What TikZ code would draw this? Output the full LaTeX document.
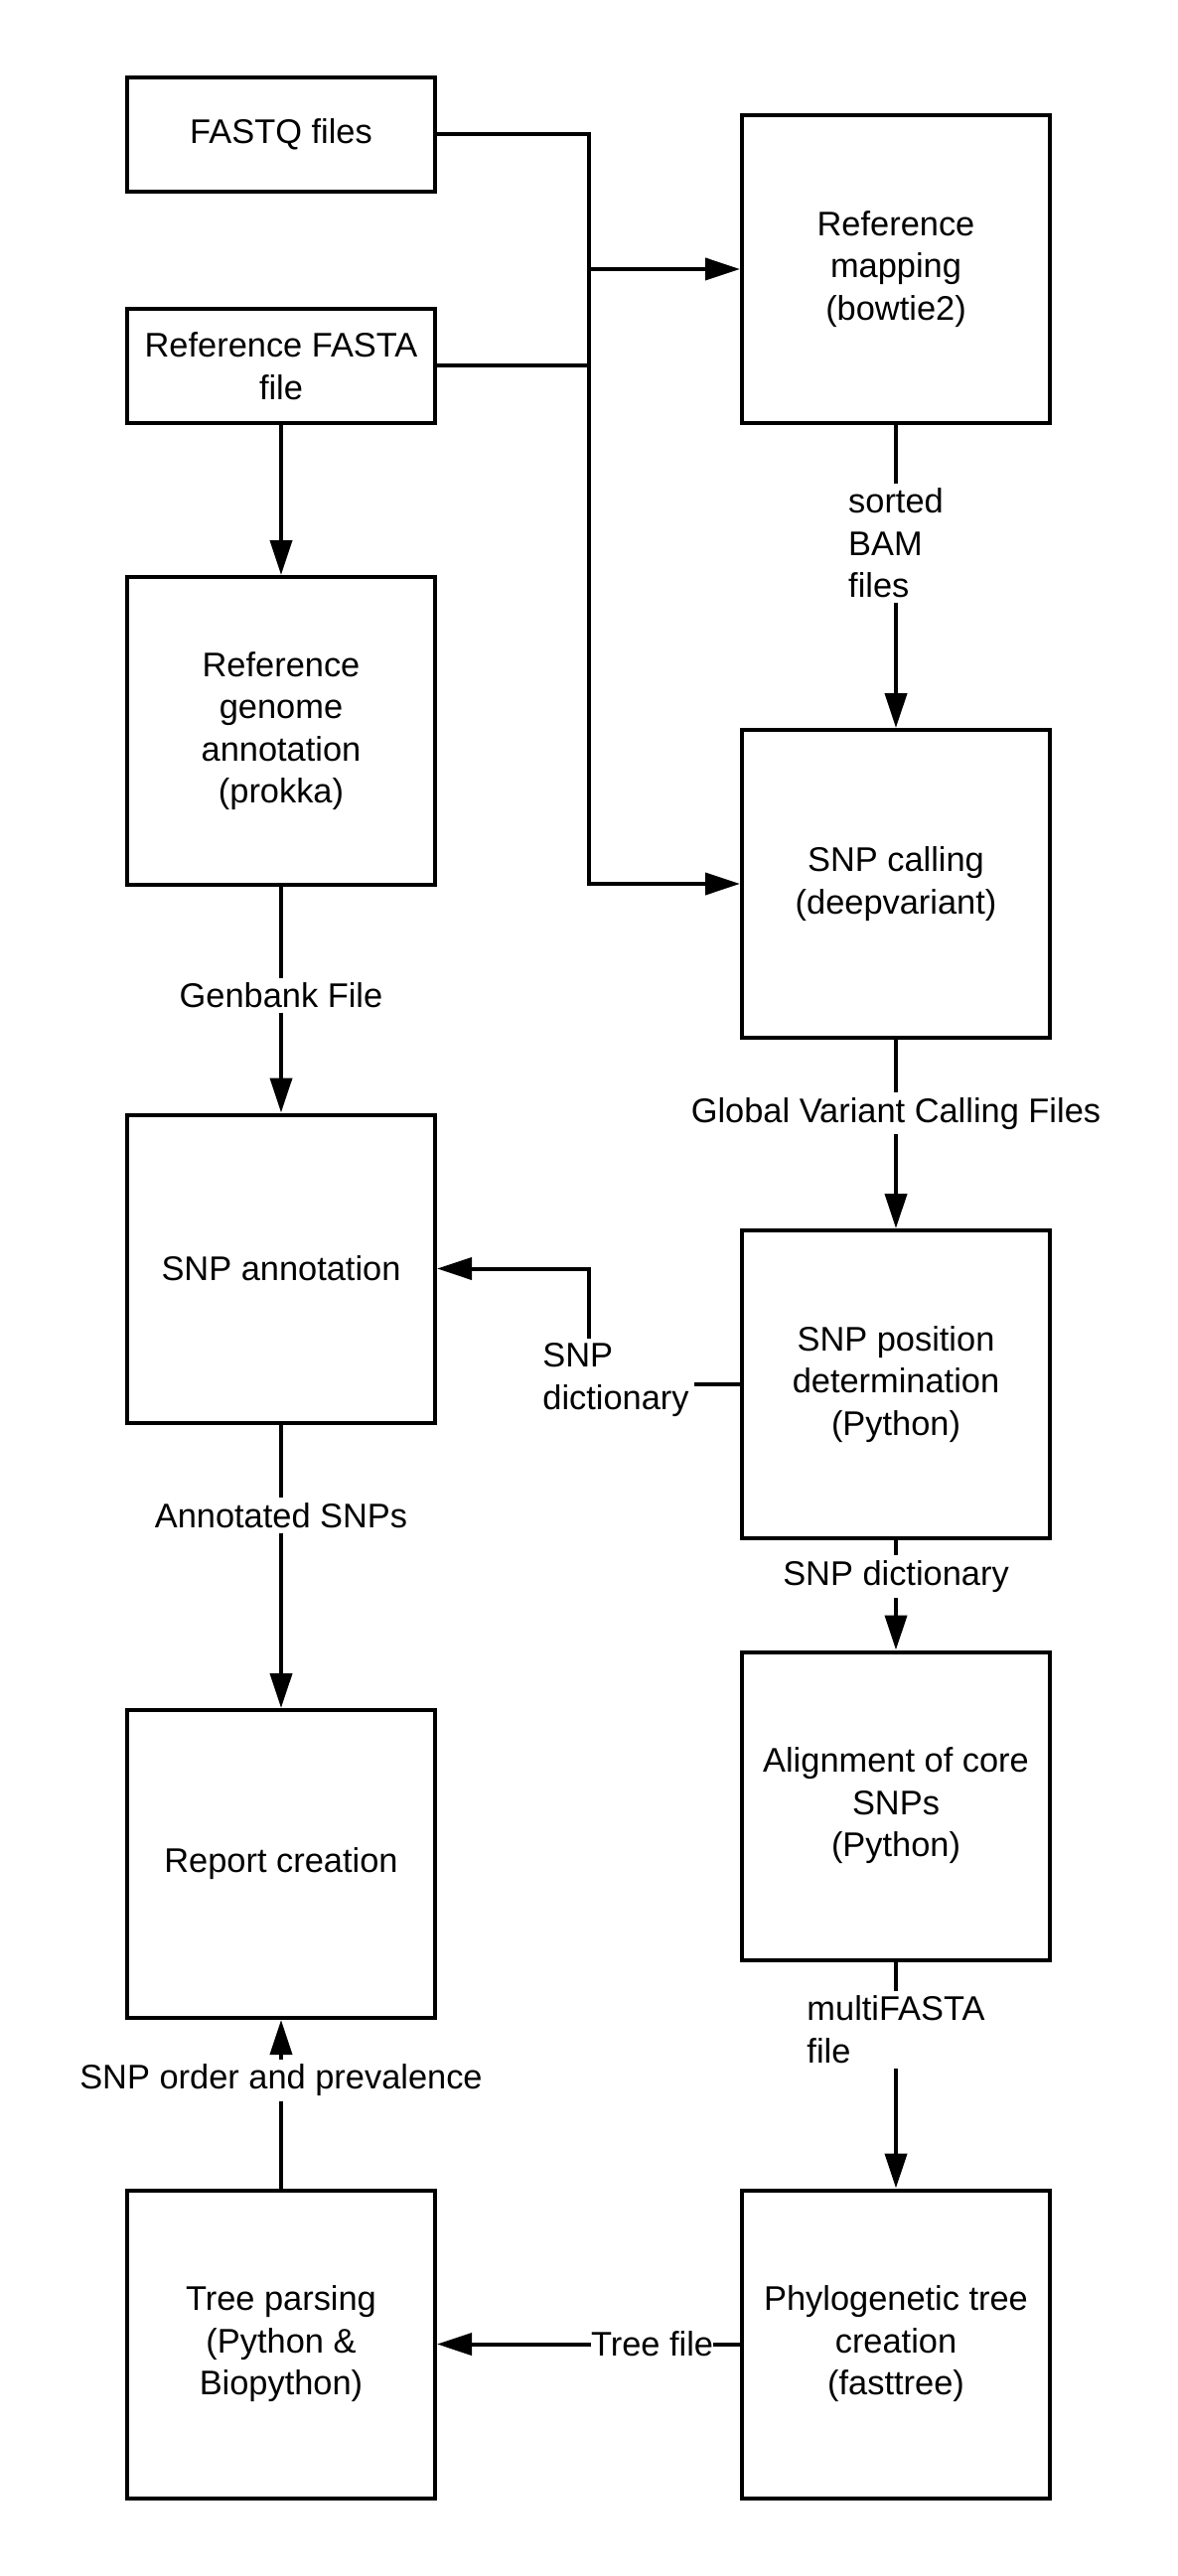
\documentclass[tikz,border=0pt]{standalone}
\usepackage{fontspec}
\setmainfont{Liberation Sans}
\usetikzlibrary{arrows.meta, calc, positioning}

\begin{document}
\begin{tikzpicture}[>={Triangle[length=17.5pt, width=11pt]}, line width=2pt, font=\fontsize{17.2pt}{21.25pt}\selectfont]
	\tikzstyle{format} = [draw, line width=2pt, rectangle, minimum width=155pt, minimum height=155pt, inner sep=0pt, align=center]
	\tikzstyle{small} = [format, minimum height=57.5pt]
	\tikzstyle{tag} = [fill=white, inner sep=2.5pt]

	\useasboundingbox (0,0) rectangle (593pt,-1297pt);

	\path[->]
		node[small] (1) at (141.5pt,-67.75pt) {FASTQ files}
		node[small, below of=1, node distance=116.5pt] (2) {Reference FASTA\\file}
		node[format, below of=2, node distance=183.75pt] (3) {Reference\\genome\\annotation\\(prokka)}
		node[format, below of=3, node distance=270.75pt] (4) {SNP annotation}
		node[format, below of=4, node distance=299.75pt] (5) {Report creation}
		node[format, below of=5, node distance=241.75pt] (6) {Tree parsing\\(Python \&\\Biopython)}
		node[format, right of=6, node distance=309.5pt] (7) {Phylogenetic tree\\creation\\(fasttree)}
		node[format, above of=7, node distance=271pt] (8) {Alignment of core\\SNPs\\(Python)}
		node[format, above of=8, node distance=212.25pt] (9) {SNP position\\determination\\(Python)}
		node[format, above of=9, node distance=252pt] (10) {SNP calling\\(deepvariant)}
		node[format, above of=10, node distance=309.5pt] (11) {Reference\\mapping\\(bowtie2)}

		(2) edge (3)
		(3) edge node[tag, pos=0.48] {Genbank File} (4)
		(4) edge node[tag, pos=0.32] {Annotated SNPs} (5)
		(6) edge node[tag, pos=0.64] {SNP order and prevalence} (5)
		(7) edge node[tag, pos=0.29, inner xsep=0pt] {Tree file} (6)
		(8) edge node[tag, pos=0.3, align=left] {multiFASTA\\file} (7)
		(9) edge node[tag, pos=0.33] {SNP dictionary} (8)
		(10) edge node[tag, pos=0.39] {Global Variant Calling Files} (9)
		(11) edge node[tag, pos=0.39, align=left] {sorted\\BAM\\files} (10)
	;

	% inputs joined half way between the columns
	\coordinate (j) at ($(1.east)!0.5!(1.east -| 11.west)$);
	\draw[->] (1.east) -- (j) |- (10.west);
	\draw[->] (j |- 11.west) -- (11.west);
	\draw (2.east) -- (j |- 2.east);

	\coordinate (k) at ($(4.east)!0.5!(4.east -| 9.west)$);
	\draw[->] (9.west) -| node[tag, pos=0.5, align=left, xshift=13.75pt, yshift=2.25pt] {SNP\\dictionary} (k) -- (4.east);
\end{tikzpicture}
\end{document}
